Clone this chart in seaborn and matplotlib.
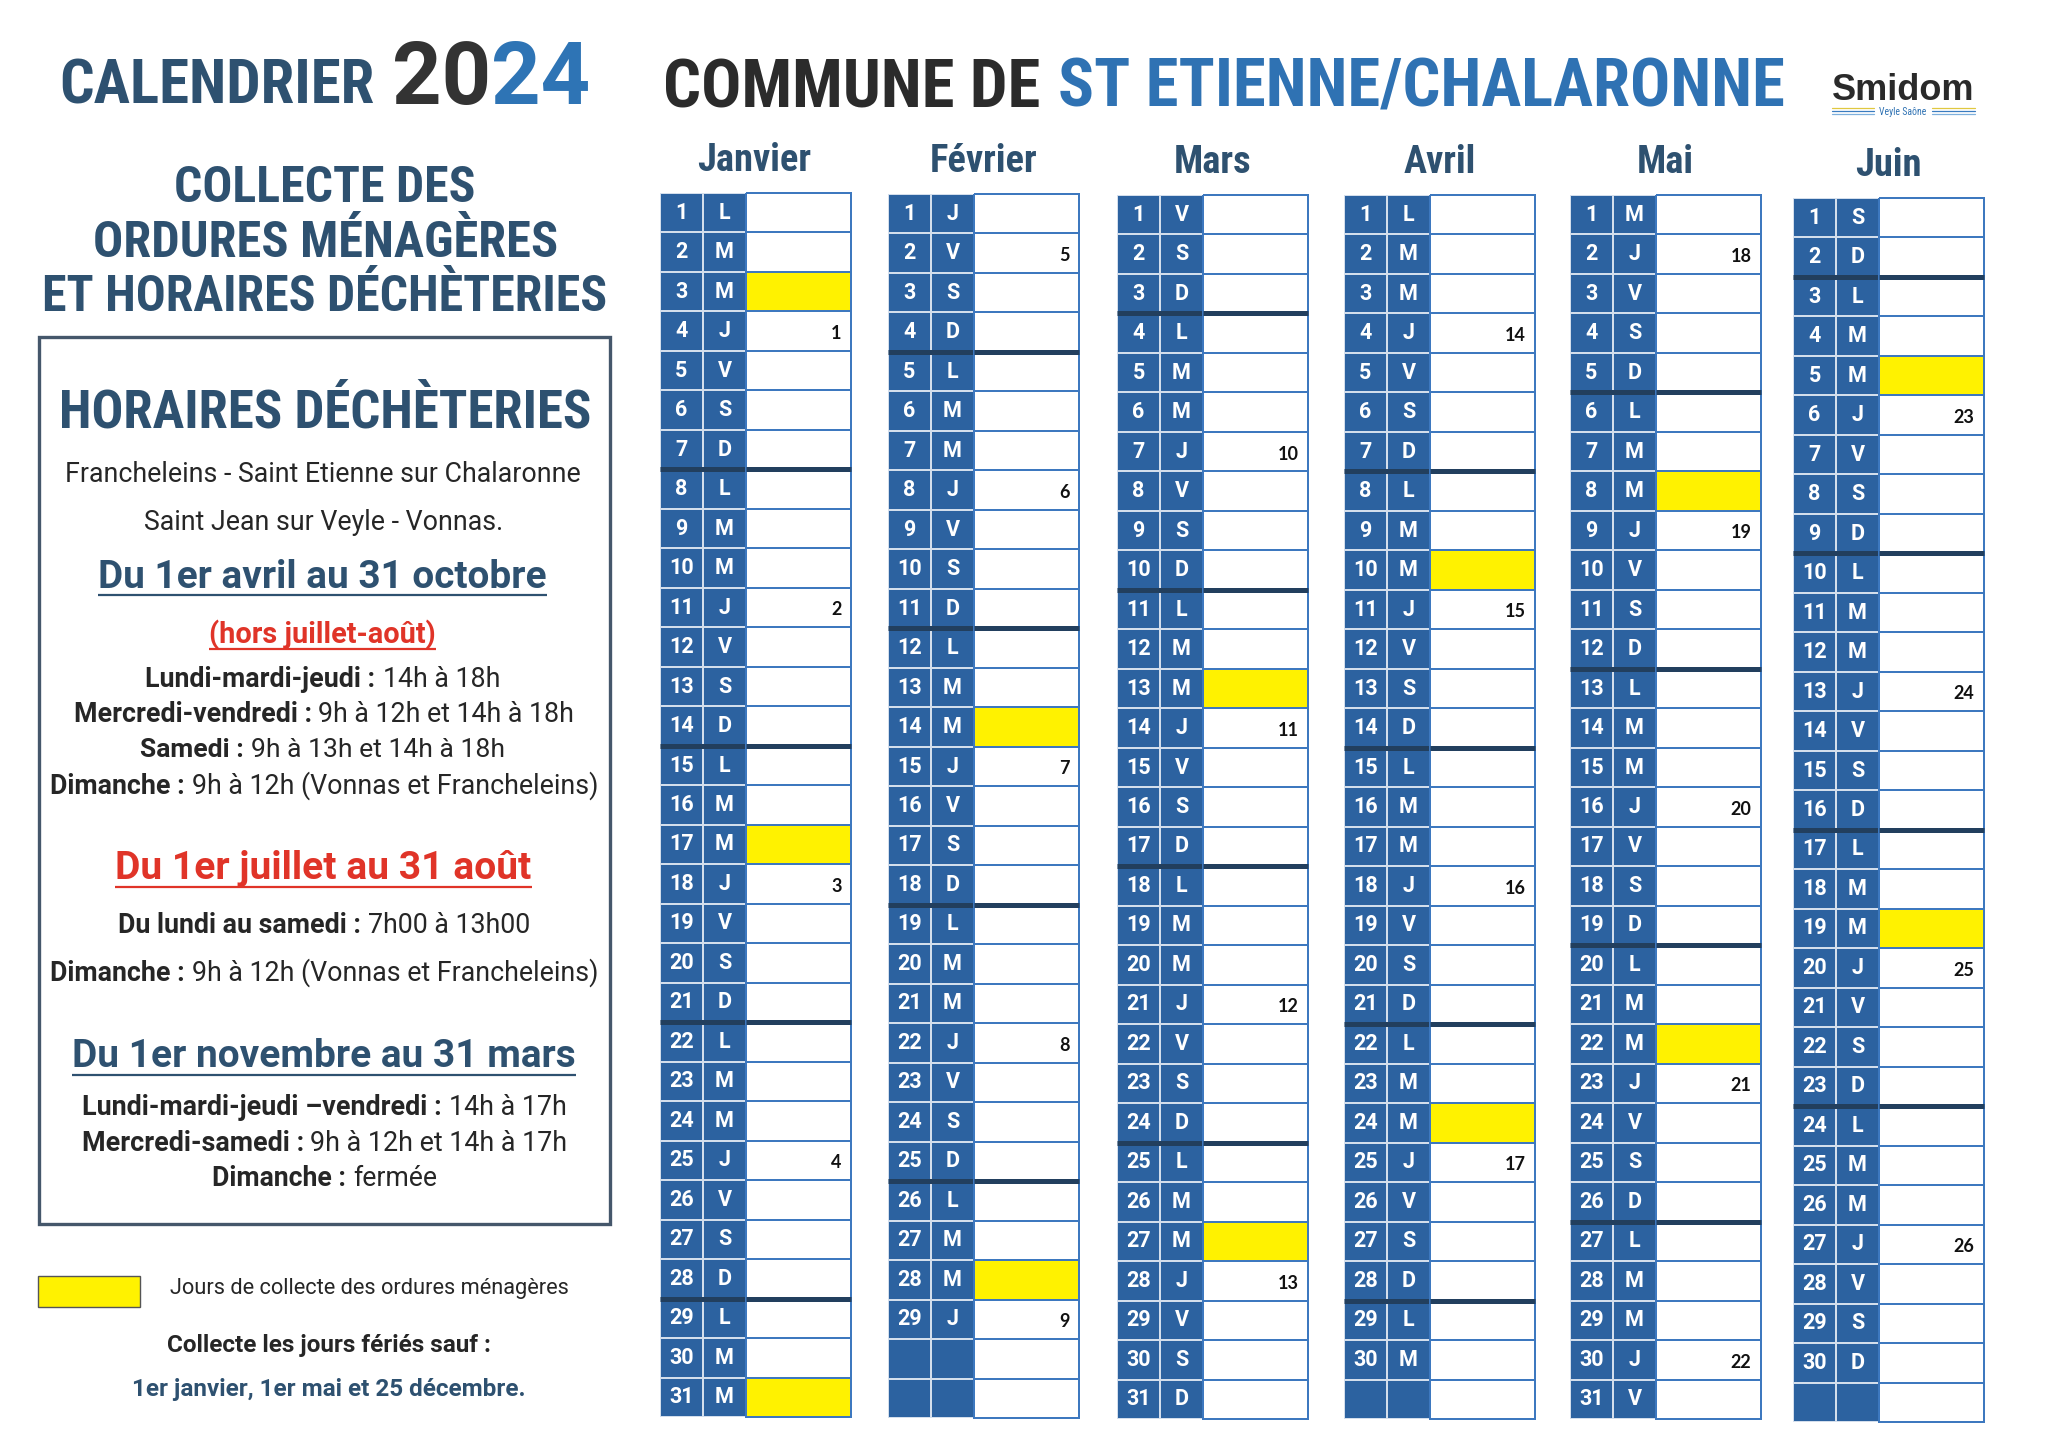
"""Calendrier 2024 - collecte des ordures ménagères, St Etienne/Chalaronne."""

import calendar
import datetime

import numpy as np
import matplotlib
matplotlib.use('Agg')
import matplotlib.pyplot as plt
from matplotlib import font_manager
from matplotlib.colors import ListedColormap
from matplotlib.patches import Rectangle
import seaborn as sns

# --- data -------------------------------------------------------------------
YEAR = 2024
MONTHS = ['Janvier', 'Février', 'Mars', 'Avril', 'Mai', 'Juin']
DAY_LETTERS = ['L', 'M', 'M', 'J', 'V', 'S', 'D']
# yellow cells = jours de collecte des ordures ménagères
YELLOW_DAYS = [[3, 17, 31], [14, 28], [13, 27], [10, 24], [8, 22], [5, 19]]
# small numbers written in the white column
NOTE_DAYS = [[4, 11, 18, 25], [2, 8, 15, 22, 29], [7, 14, 21, 28],
             [4, 11, 18, 25], [2, 9, 16, 23, 30], [6, 13, 20, 27]]
NOTE_NUMS = [[1, 2, 3, 4], [5, 6, 7, 8, 9], [10, 11, 12, 13],
             [14, 15, 16, 17], [18, 19, 20, 21, 22], [23, 24, 25, 26]]

# --- layout (pixels of the 2048x1448 page) ----------------------------------
W, H = 2048, 1448
LEFTS = [660, 888, 1117, 1344, 1570, 1793]
TOPS = [193, 194, 195, 195, 195, 198]
GRID_H = 1224
DAY_W, NOTE_W = 86, 105

BLUE = '#2c62a0'
GAP = '#d3deec'
EDGE = '#3d78bf'
SEP = '#223f5e'
YELLOW = '#fff200'
NAVY = '#2e5170'
TEXT = '#262626'
RED = '#e03428'

sns.set_style('white')
names = {f.name for f in font_manager.fontManager.ttflist}
COND = next(f for f in ['Roboto Condensed', 'Liberation Sans Narrow', 'Roboto', 'DejaVu Sans'] if f in names)
BODY = 'Roboto' if 'Roboto' in names else 'DejaVu Sans'
NUMF = 'Lato' if 'Lato' in names else BODY
plt.rcParams['font.family'] = [BODY, 'DejaVu Sans']

fig = plt.figure(figsize=(W / 100, H / 100), dpi=100)
fig.patch.set_facecolor('white')
bg = fig.add_axes([0, 0, 1, 1])
bg.set_xlim(0, W)
bg.set_ylim(H, 0)
bg.axis('off')
renderer = fig.canvas.get_renderer()


def frac(x, y, w, h):
    return [x / W, 1 - (y + h) / H, w / W, h / H]


def put_line(parts, x0, x1, base, family=BODY, gap=0.25, size=None):
    """Write coloured / mixed-weight parts on one baseline, fitted to x0..x1."""
    ws = []
    for s, wt, c in parts:
        t = bg.text(0, 0, s, fontsize=10, fontweight=wt, family=family)
        ws.append(t.get_window_extent(renderer).width)
        t.remove()
    gap_px = gap * 10 * 100 / 72
    total = sum(ws) + gap_px * (len(parts) - 1)
    if size is None:
        size = 10 * (x1 - x0) / total
    k = size / 10
    x = (x0 + x1) / 2 - total * k / 2
    for (s, wt, c), wd in zip(parts, ws):
        bg.text(x, base, s, fontsize=size, fontweight=wt, color=c,
                family=family, ha='left', va='baseline')
        x += (wd + gap_px) * k
    return size


def underline(x0, x1, y, color):
    bg.plot([x0, x1], [y, y], color=color, lw=1.6, solid_capstyle='butt')


# --- header -----------------------------------------------------------------
put_line([('CALENDRIER', 'bold', NAVY)], 59, 372, 104, family=COND)
put_line([('20', 'bold', '#333333'), ('24', 'bold', '#2e74b5')], 392, 590, 104, gap=0)
put_line([('COMMUNE DE', 'bold', '#2b2b2b'), ('ST ETIENNE/CHALARONNE', 'bold', '#2f72b3')],
         663, 1779, 107, family=COND, gap=0.3)

# Smidom logo
put_line([('Smidom', 'bold', '#2a2a2a')], 1832, 1975, 100, family='Liberation Sans')
bg.text(1903, 112, 'Veyle Saône', fontsize=7, color='#2f72b3', family=COND,
        ha='center', va='center')
for (xa, xb) in [(1832, 1874), (1932, 1975)]:
    for yy, cc in [(108, '#e0c840'), (111, '#3a7cc0'), (114, '#7fb0dd')]:
        bg.plot([xa, xb], [yy, yy], color=cc, lw=0.9)

# --- left panel ---------------------------------------------------------------
put_line([('COLLECTE DES', 'bold', NAVY)], 174, 474, 202, family=COND)
put_line([('ORDURES MÉNAGÈRES', 'bold', NAVY)], 93, 555, 257, family=COND)
put_line([('ET HORAIRES DÉCHÈTERIES', 'bold', NAVY)], 42, 605, 311, family=COND)

bg.add_patch(Rectangle((39, 337), 571, 887, fill=False, ec='#45576b', lw=2.4))

put_line([('HORAIRES DÉCHÈTERIES', 'bold', NAVY)], 59, 588, 427, family=COND)
put_line([('Francheleins - Saint Etienne sur Chalaronne', 'normal', TEXT)], 65, 580, 482)
put_line([('Saint Jean sur Veyle - Vonnas.', 'normal', TEXT)], 144, 503, 530)

put_line([('Du 1er avril au 31 octobre', 'bold', NAVY)], 98, 547, 588)
underline(98, 547, 595, NAVY)
put_line([('(hors juillet-août)', 'bold', RED)], 209, 436, 643)
underline(209, 436, 649, RED)

put_line([('Lundi-mardi-jeudi :', 'bold', TEXT), ('14h à 18h', 'normal', TEXT)], 145, 500, 687)
put_line([('Mercredi-vendredi :', 'bold', TEXT), ('9h à 12h et 14h à 18h', 'normal', TEXT)], 74, 573, 722)
put_line([('Samedi :', 'bold', TEXT), ('9h à 13h et 14h à 18h', 'normal', TEXT)], 140, 504, 757)
put_line([('Dimanche :', 'bold', TEXT), ('9h à 12h (Vonnas et Francheleins)', 'normal', TEXT)], 50, 598, 794)

put_line([('Du 1er juillet au 31 août', 'bold', RED)], 115, 532, 879)
underline(115, 532, 887, RED)
put_line([('Du lundi au samedi :', 'bold', TEXT), ('7h00 à 13h00', 'normal', TEXT)], 118, 530, 933)
put_line([('Dimanche :', 'bold', TEXT), ('9h à 12h (Vonnas et Francheleins)', 'normal', TEXT)], 50, 598, 981)

put_line([('Du 1er novembre au 31 mars', 'bold', NAVY)], 72, 576, 1067)
underline(72, 576, 1075, NAVY)
put_line([('Lundi-mardi-jeudi –vendredi :', 'bold', TEXT), ('14h à 17h', 'normal', TEXT)], 82, 567, 1115)
put_line([('Mercredi-samedi :', 'bold', TEXT), ('9h à 12h et 14h à 17h', 'normal', TEXT)], 82, 567, 1151)
put_line([('Dimanche :', 'bold', TEXT), ('fermée', 'normal', TEXT)], 212, 438, 1186)

bg.add_patch(Rectangle((38, 1276), 102, 31, fc=YELLOW, ec='#555555', lw=1))
put_line([('Jours de collecte des ordures ménagères', 'normal', TEXT)], 170, 571, 1294)
put_line([('Collecte les jours fériés sauf :', 'bold', TEXT)], 167, 492, 1352)
put_line([('1er janvier, 1er mai et 25 décembre.', 'bold', NAVY)], 132, 526, 1396)

# --- month columns ------------------------------------------------------------
month_size = put_line([('Janvier', 'bold', NAVY)], 697, 811, 171, family=COND)
for i, month in enumerate(MONTHS):
    x0, top = LEFTS[i], TOPS[i]
    cx = x0 + (DAY_W + NOTE_W) / 2
    if i > 0:
        bg.text(cx, top - 22, month, fontsize=month_size, fontweight='bold',
                color=NAVY, family=COND, ha='center', va='baseline')

    n_days = calendar.monthrange(YEAR, i + 1)[1]
    weekday = [datetime.date(YEAR, i + 1, d).weekday() for d in range(1, n_days + 1)]
    labels = np.array([[str(d), DAY_LETTERS[weekday[d - 1]]] if d <= n_days else ['', '']
                       for d in range(1, 32)])

    ax = fig.add_axes(frac(x0, top, DAY_W, GRID_H))
    sns.heatmap(np.zeros((31, 2)), ax=ax, cmap=ListedColormap([BLUE]), cbar=False,
                annot=labels, fmt='', linewidths=1.2, linecolor=GAP,
                xticklabels=False, yticklabels=False,
                annot_kws={'color': 'white', 'fontweight': 'bold', 'fontsize': 15.5,
                           'family': BODY})

    collect = np.zeros((31, 1))
    for d in YELLOW_DAYS[i]:
        collect[d - 1, 0] = 1
    ax2 = fig.add_axes(frac(x0 + DAY_W, top, NOTE_W, GRID_H))
    sns.heatmap(collect, ax=ax2, cmap=ListedColormap(['white', YELLOW]), vmin=0, vmax=1,
                cbar=False, linewidths=1.1, linecolor=EDGE,
                xticklabels=False, yticklabels=False)
    ax2.collections[0].set_clip_on(False)
    for d, k in zip(NOTE_DAYS[i], NOTE_NUMS[i]):
        ax2.text(0.91, d - 0.44, str(k), ha='right', va='center', fontsize=13,
                 fontweight='bold', color='#111111', family=NUMF)

    # thick line after each Sunday
    for d in range(1, n_days):
        if weekday[d - 1] == 6:
            for a in (ax, ax2):
                a.axhline(d, color=SEP, lw=3.6, clip_on=False, zorder=5,
                          solid_capstyle='butt')

    for a in (ax, ax2):
        for s in a.spines.values():
            s.set_visible(False)

fig.savefig('out.png', dpi=100, facecolor='white')
